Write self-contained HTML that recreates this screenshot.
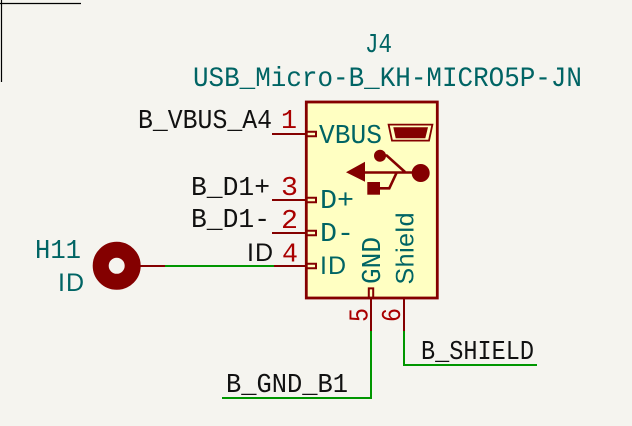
<!DOCTYPE html>
<html>
<head>
<meta charset="utf-8">
<style>
html,body{margin:0;padding:0;background:#f5f4ef;width:632px;height:426px;overflow:hidden}
svg{display:block}
text{font-family:"Liberation Mono",monospace;font-size:27px}
.s{font-family:"Liberation Sans",sans-serif;font-size:25px}
.t{fill:#006464}.k{fill:#111}.r{fill:#a90000}
</style>
</head>
<body>
<svg width="632" height="426" viewBox="0 0 632 426" xmlns="http://www.w3.org/2000/svg">
<rect width="632" height="426" fill="#f5f4ef"/>
<path d="M1.5 0V82M0 3.5H81" stroke="#000" stroke-width="1.2" fill="none"/>
<rect x="306.3" y="102" width="131" height="196" fill="#ffffc2" stroke="#840000" stroke-width="2.8"/>
<g stroke="#009600" stroke-width="2" fill="none">
<path d="M165 266H274"/>
<path d="M371 331V398H222"/>
<path d="M404 331V365H537"/>
</g>
<g stroke="#840000" stroke-width="2" fill="none">
<path d="M272 134H306M272 200H306M272 233H306M274 266H306M140 266H165"/>
<path d="M371 299V331M404 299V331"/>
<path d="M306 131.8H316V136.2H306M306 197.8H316V202.2H306M306 230.8H316V235.2H306M306 263.8H316V268.2H306"/>
<path d="M368.8 298V288.4H373.2V298"/>
</g>
<circle cx="116.7" cy="265.8" r="16" fill="none" stroke="#840000" stroke-width="16"/>
<g fill="#840000" stroke="none">
<path d="M388.6 124.6H432.4L429 140.6H392Z" fill="none" stroke="#840000" stroke-width="1.8"/>
<path d="M393.3 127.3H428L425.3 138.3H395.7Z"/>
<path d="M346 172.3L365 161.7V181.7Z"/>
<circle cx="420.7" cy="173" r="9"/>
<circle cx="380" cy="155.7" r="6"/>
<rect x="367.3" y="182" width="12.7" height="12.7"/>
</g>
<path d="M362 172.5H415M382 155.5L386.7 155.5L405 172M378 188.3H389.3L396.7 172.5" fill="none" stroke="#840000" stroke-width="2.6"/>

<text class="t" x="365" y="52" textLength="27" lengthAdjust="spacingAndGlyphs">J4</text>
<text class="t" x="193" y="86" textLength="389" lengthAdjust="spacingAndGlyphs" style="font-size:28px">USB_Micro-B_KH-MICRO5P-JN</text>
<text class="k" x="138" y="128" textLength="134" lengthAdjust="spacingAndGlyphs">B_VBUS_A4</text>
<text class="r" x="281" y="128" textLength="16" lengthAdjust="spacingAndGlyphs">1</text>
<text class="k" x="191" y="195" textLength="79" lengthAdjust="spacingAndGlyphs">B_D1+</text>
<text class="r" x="281" y="195" textLength="17" lengthAdjust="spacingAndGlyphs">3</text>
<text class="k" x="191" y="227" textLength="79" lengthAdjust="spacingAndGlyphs">B_D1-</text>
<text class="r" x="281" y="228" textLength="17" lengthAdjust="spacingAndGlyphs">2</text>
<text class="k s" x="247 255" y="261">ID</text>
<text class="r" x="282" y="261.5" textLength="16" lengthAdjust="spacingAndGlyphs">4</text>
<text class="t" x="35" y="258" textLength="46" lengthAdjust="spacingAndGlyphs">H11</text>
<text class="t s" x="58 66" y="291">ID</text>
<text class="t" x="319" y="143" textLength="63" lengthAdjust="spacingAndGlyphs">VBUS</text>
<text class="t" x="320" y="208" textLength="34" lengthAdjust="spacingAndGlyphs">D+</text>
<text class="t" x="320" y="241" textLength="34" lengthAdjust="spacingAndGlyphs">D-</text>
<text class="t s" x="320 328" y="274">ID</text>
<text class="t" transform="translate(380 284) rotate(-90)" textLength="47" lengthAdjust="spacingAndGlyphs">GND</text>
<text class="t s" transform="translate(413.3 284.5) rotate(-90)" textLength="72" lengthAdjust="spacing">Shield</text>
<text class="r" transform="translate(367.3 322) rotate(-90)" textLength="14" lengthAdjust="spacingAndGlyphs">5</text>
<text class="r" transform="translate(400 322) rotate(-90)" textLength="14" lengthAdjust="spacingAndGlyphs">6</text>
<text class="k" x="421" y="359" textLength="113" lengthAdjust="spacingAndGlyphs">B_SHIELD</text>
<text class="k" x="226" y="392" textLength="122" lengthAdjust="spacingAndGlyphs">B_GND_B1</text>
</svg>
</body>
</html>
